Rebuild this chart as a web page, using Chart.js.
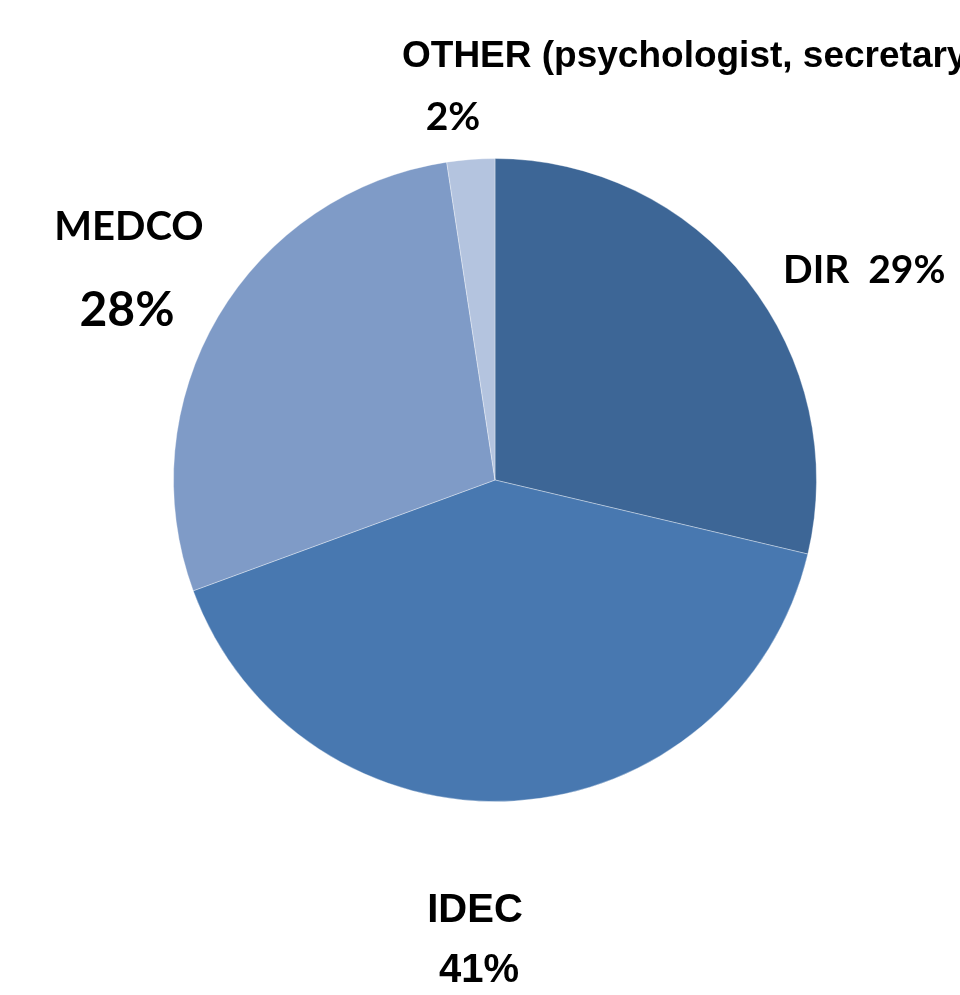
<!DOCTYPE html>
<html>
<head>
<meta charset="utf-8">
<script src="https://cdn.jsdelivr.net/npm/chart.js@4.4.1/dist/chart.umd.min.js"></script>
<style>
html,body{margin:0;padding:0;background:#fff;}
#wrap{width:960px;height:995px;position:relative;}
</style>
</head>
<body>
<div id="wrap"><canvas id="c" width="960" height="995"></canvas></div>
<script>
const categories = ['DIR', 'IDEC', 'MEDCO', 'OTHER (psychologist, secretary)'];
const values = [28.7, 40.7, 28.2, 2.4];
const percentLabels = ['29%', '41%', '28%', '2%'];
const sliceColors = ['#3D6696', '#4878B0', '#7F9BC7', '#B4C4DF'];

// label layout (style only): baseline positions and fonts per slice
const labelStyles = [
  {name:{x:783,y:283,align:'left',font:'bold 39px Lato'}, inline:true},
  {name:{x:475,y:922,align:'center',font:'bold 40px "Liberation Sans"'}, pct:{x:479,y:982,align:'center',font:'bold 40px "Liberation Sans"'}},
  {name:{x:129,y:240,align:'center',font:'bold 40px Lato'}, pct:{x:127,y:326,align:'center',font:'bold 48px Lato'}},
  {name:{x:402,y:67,align:'left',font:'bold 37px "Liberation Sans"'}, pct:{x:453,y:130,align:'center',font:'bold 39px Lato'}}
];

const labelPlugin = {
  id: 'sliceLabels',
  afterDraw(chart) {
    const ctx = chart.ctx;
    ctx.save();
    ctx.fillStyle = '#000';
    ctx.textBaseline = 'alphabetic';
    categories.forEach((cat, i) => {
      const s = labelStyles[i];
      ctx.font = s.name.font;
      ctx.textAlign = s.name.align;
      if (s.inline) {
        ctx.fillText(cat + '  ' + percentLabels[i], s.name.x, s.name.y);
      } else {
        ctx.fillText(cat, s.name.x, s.name.y);
        ctx.font = s.pct.font;
        ctx.textAlign = s.pct.align;
        ctx.fillText(percentLabels[i], s.pct.x, s.pct.y);
      }
    });
    ctx.restore();
  }
};

new Chart(document.getElementById('c'), {
  type: 'pie',
  data: {
    labels: categories,
    datasets: [{
      data: values,
      backgroundColor: sliceColors,
      borderColor: 'rgba(255,255,255,0.35)',
      borderWidth: 1
    }]
  },
  options: {
    responsive: false,
    animation: false,
    layout: {padding: {left: 173, right: 143, top: 158, bottom: 193}},
    plugins: {legend: {display: false}, tooltip: {enabled: false}}
  },
  plugins: [labelPlugin]
});
</script>
</body>
</html>
